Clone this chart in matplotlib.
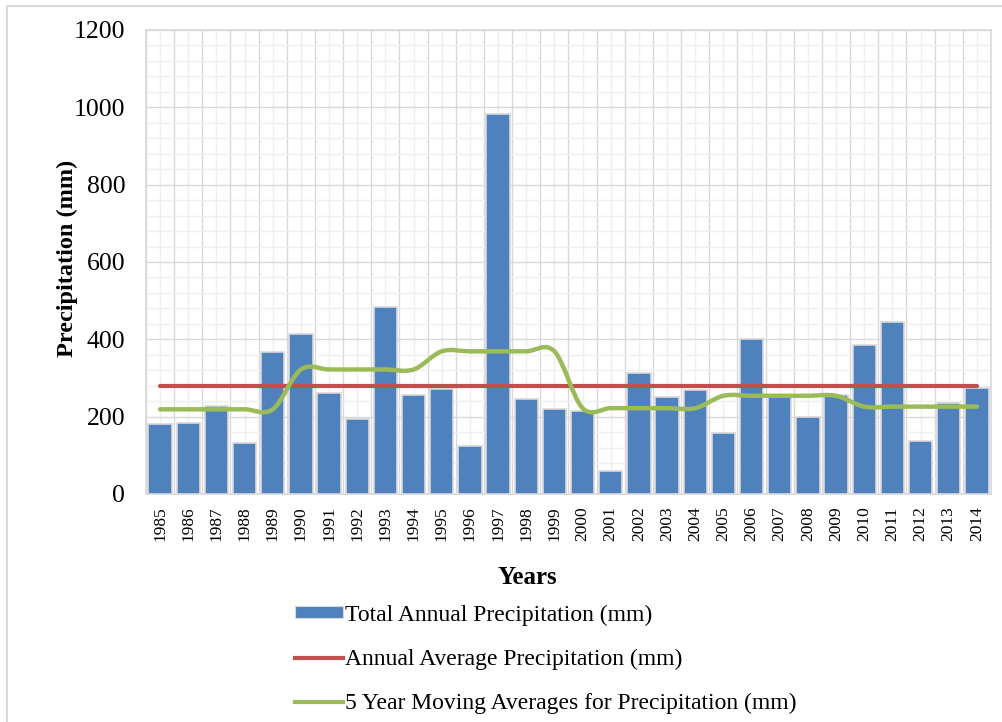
"""
年降水量柱状图 + 多年平均线 + 5 年滑动平均（平滑曲线）。
"""
import matplotlib
matplotlib.use("Agg")
import matplotlib.pyplot as plt
import numpy as np
from matplotlib.lines import Line2D
from matplotlib.patches import PathPatch, Rectangle
from matplotlib.path import Path
from matplotlib.ticker import MultipleLocator

years = list(range(1985, 2015))
total_precip = [180, 184, 228, 133, 368, 415, 260, 194, 484, 257,
                271, 124, 983, 245, 219, 215, 60, 312, 252, 269,
                157, 402, 253, 200, 255, 385, 445, 137, 235, 274]
annual_avg = [280] * 30
moving_avg = [219, 219, 219, 219, 219, 322, 322, 322, 322, 322,
              369, 369, 369, 369, 369, 222, 222, 222, 222, 222,
              254, 254, 254, 254, 254, 226, 226, 226, 226, 226]

plt.rcParams["font.family"] = ["Liberation Serif", "DejaVu Serif"]

BLUE = "#4F81BD"
RED = "#C0504D"
GREEN = "#9BBB59"
GRID = "#D9D9D9"
GRID_MINOR = "#EFEFEF"


def smooth_path(xs, ys):
    """Excel 风格的平滑折线：Catmull-Rom 转三次 Bezier。"""
    pts = np.column_stack([xs, ys]).astype(float)
    verts = [pts[0]]
    codes = [Path.MOVETO]
    n = len(pts)
    for i in range(n - 1):
        p0 = pts[i - 1] if i > 0 else pts[i]
        p1, p2 = pts[i], pts[i + 1]
        p3 = pts[i + 2] if i + 2 < n else pts[i + 1]
        verts += [p1 + (p2 - p0) / 6, p2 - (p3 - p1) / 6, p2]
        codes += [Path.CURVE4] * 3
    return Path(verts, codes)


fig = plt.figure(figsize=(10.03, 7.22), dpi=100)
ax = fig.add_axes([146 / 1003, 1 - 494 / 722, 845 / 1003, 464 / 722])

x = np.arange(len(years))
ax.bar(x, total_precip, width=0.83, color=BLUE, edgecolor=GRID,
       linewidth=1.2, zorder=3)
ax.plot(x, annual_avg, color=RED, lw=3.0, solid_capstyle="round", zorder=4)
ax.add_patch(PathPatch(smooth_path(x, moving_avg), fill=False, edgecolor=GREEN,
                       lw=3.2, capstyle="round", joinstyle="round", zorder=5))

ax.set_xlim(-0.5, len(years) - 0.5)
ax.set_ylim(0, 1200)
ax.yaxis.set_major_locator(MultipleLocator(200))
ax.yaxis.set_minor_locator(MultipleLocator(40))
ax.set_xticks(x)
ax.set_xticklabels([str(y) for y in years], rotation=90, fontsize=12.5)
ax.set_xticks(np.arange(-0.5, len(years)), minor=True)
ax.tick_params(axis="both", which="both", length=0)
ax.tick_params(axis="y", labelsize=18.5, pad=15)
ax.tick_params(axis="x", pad=9)

# 网格：水平主/次网格，竖直方向在类别边界与中心
ax.grid(True, which="major", axis="y", color=GRID, lw=1.0, zorder=0)
ax.grid(True, which="minor", axis="y", color=GRID_MINOR, lw=1.0, zorder=0)
ax.grid(True, which="minor", axis="x", color=GRID, lw=1.0, zorder=0)
ax.grid(True, which="major", axis="x", color=GRID_MINOR, lw=1.0, zorder=0)
ax.set_axisbelow(True)
for s in ax.spines.values():
    s.set_color(GRID)
    s.set_linewidth(1.2)

ax.set_ylabel("Precipitation (mm)", fontsize=17.5, fontweight="bold", va="center")
ax.yaxis.set_label_coords(-0.093, 0.507)
ax.set_xlabel("Years", fontsize=18, fontweight="bold", va="center")
ax.xaxis.set_label_coords(0.451, -0.179)

handles = [Rectangle((0, 0), 1, 1, facecolor=BLUE, edgecolor=GRID, lw=0.8),
           Line2D([], [], color=RED, lw=3.0),
           Line2D([], [], color=GREEN, lw=3.0)]
labels = ["Total Annual Precipitation (mm)",
          "Annual Average Precipitation (mm)",
          "5 Year Moving Averages for Precipitation (mm)"]
fig.legend(handles, labels, loc="upper left",
           bbox_to_anchor=(286 / 1003, 1 - 595 / 722),
           frameon=False, fontsize=17, handlelength=2.0, handleheight=0.4,
           handletextpad=0.12, labelspacing=0.97, borderaxespad=0)

# 外框
fig.patches.append(Rectangle((7 / 1003, -0.01), 1.0, 1 - 6 / 722 + 0.01,
                             transform=fig.transFigure, fill=False,
                             edgecolor=GRID, lw=1.5))

fig.savefig("out.png", dpi=100)
